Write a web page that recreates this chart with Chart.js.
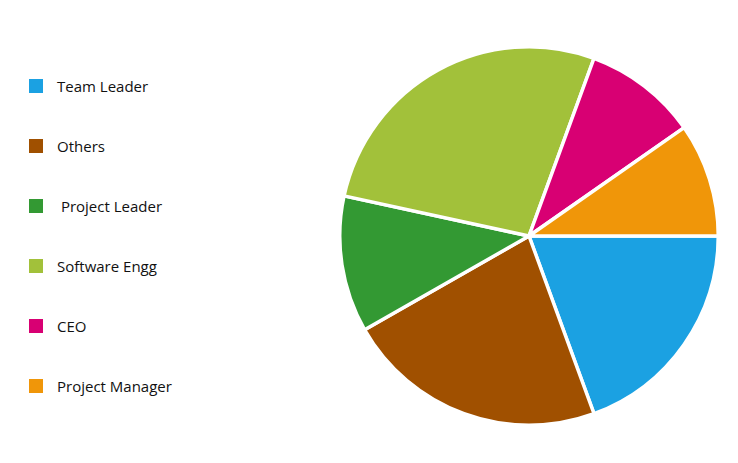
<!DOCTYPE html>
<html>
<head>
<meta charset="utf-8">
<script src="https://cdn.jsdelivr.net/npm/chart.js@4/dist/chart.umd.min.js"></script>
<style>
  html, body { margin: 0; padding: 0; background: #fff; }
  body { width: 738px; height: 463px; position: relative; overflow: hidden; font-family: "Open Sans", sans-serif; }
  #legenda { position: absolute; left: 29px; top: 79px; }
  .item { display: flex; align-items: center; height: 14px; margin-bottom: 46px; font-size: 15px; color: #111; white-space: pre; }
  .caixa { width: 14px; height: 14px; margin-right: 14px; flex: none; }
  #grafico { position: absolute; left: 338px; top: 45px; width: 382px; height: 382px; }
</style>
</head>
<body>
<div id="legenda"></div>
<div id="grafico"><canvas id="pizza"></canvas></div>
<script>
const categorias = ["Team Leader", "Others", " Project Leader", "Software Engg", "CEO", "Project Manager"];
const valores = [20, 23, 12, 28, 10, 10];
const cores = ["#1ba1e2", "#a05000", "#339933", "#a2c13a", "#d80073", "#f09609"];

// legenda feita à mão para ficar igual ao original
const legenda = document.getElementById("legenda");
categorias.forEach((nome, i) => {
  legenda.innerHTML += `<div class="item"><span class="caixa" style="background:${cores[i]}"></span>${nome}</div>`;
});

const ctx = document.getElementById("pizza").getContext("2d");
new Chart(ctx, {
  type: "pie",
  data: {
    labels: categorias,
    datasets: [{
      data: valores,
      backgroundColor: cores,
      borderColor: "#fff",
      borderWidth: 3.5,
      hoverBorderWidth: 3.5
    }]
  },
  options: {
    responsive: true,
    maintainAspectRatio: false,
    animation: false,
    rotation: 90,
    layout: { padding: 0 },
    plugins: {
      legend: { display: false }
    }
  }
});
</script>
</body>
</html>
